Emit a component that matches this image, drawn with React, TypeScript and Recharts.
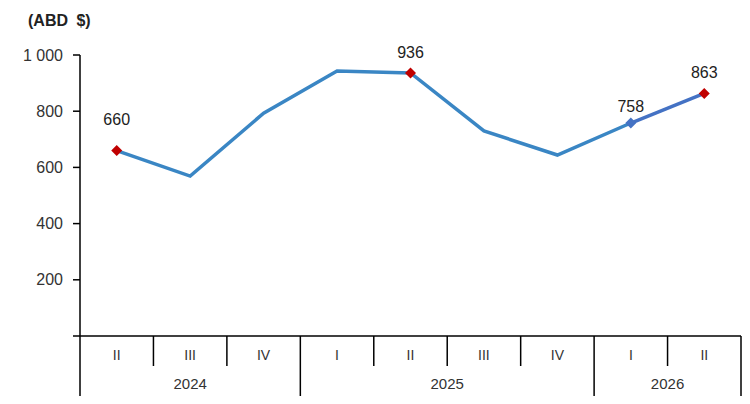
import React from 'react';
import { LineChart, Line, XAxis, YAxis, LabelList } from 'recharts';

const quarters = ['II', 'III', 'IV', 'I', 'II', 'III', 'IV', 'I', 'II'];
const years = ['2024', '2024', '2024', '2025', '2025', '2025', '2025', '2026', '2026'];
const actualValues: (number | null)[] = [660, 569, 793, 943, 936, 730, 644, 758, null];
const forecastValues: (number | null)[] = [null, null, null, null, null, null, null, 758, 863];
const actualLabeledIdx = [0, 4, 7];
const forecastLabeledIdx = [8];
const yTicks = [0, 200, 400, 600, 800, 1000];

const data = quarters.map((q, i) => ({
  key: `${years[i]}-${q}-${i}`,
  quarter: q,
  year: years[i],
  actual: actualValues[i],
  forecast: forecastValues[i],
  labelA: actualLabeledIdx.includes(i) ? actualValues[i] : null,
  labelF: forecastLabeledIdx.includes(i) ? forecastValues[i] : null,
}));

const FONT = '"Liberation Sans", Arial, sans-serif';
const MAIN = '#3A86C4';
const FORE = '#4472C4';
const RED = '#C00000';
const PLOT_W = 750 - 80 - 9;
const BAND = PLOT_W / quarters.length;

const Diamond = ({ cx, cy, fill }: any) => {
  if (cx == null || cy == null) return null;
  const r = 5.5;
  return <path d={`M${cx},${cy - r}L${cx + r},${cy}L${cx},${cy + r}L${cx - r},${cy}Z`} fill={fill} />;
};

const actualDot = (props: any) => {
  const { index, cx, cy } = props;
  if (index === 7 || !actualLabeledIdx.includes(index)) return <g key={`a${index}`} />;
  return <Diamond key={`a${index}`} cx={cx} cy={cy} fill={RED} />;
};

const forecastDot = (props: any) => {
  const { index, cx, cy } = props;
  if (index === 7) return <Diamond key={`f${index}`} cx={cx} cy={cy} fill={FORE} />;
  if (index === 8) return <Diamond key={`f${index}`} cx={cx} cy={cy} fill={RED} />;
  return <g key={`f${index}`} />;
};

const labelOffsets: Record<number, number> = { 0: 26, 4: 15, 7: 11, 8: 15 };

const ValueLabel = (props: any) => {
  const { x, y, width, value, index } = props;
  if (value == null || value === '' || x == null || y == null) return null;
  const off = labelOffsets[index] ?? 16;
  const cx = x + (width || 0) / 2;
  return (
    <text x={cx} y={y - off} textAnchor="middle" fontFamily={FONT} fontSize={16} fill="#222">
      {value}
    </text>
  );
};

const QuarterTick = (props: any) => {
  const { x, y, payload, index } = props;
  const half = payload?.offset ? payload.offset : BAND / 2;
  const bw = half * 2;
  const top = y - 8;
  const i = payload?.index ?? index;
  const isGroupStart = i === 0 || years[i] !== years[i - 1];
  const isLast = i === quarters.length - 1;
  let groupLen = 0;
  if (isGroupStart) {
    let j = i;
    while (j < years.length && years[j] === years[i]) {
      groupLen++;
      j++;
    }
  }
  const leftEdge = x - half;
  const rightEdge = x + half;
  const nextIsNewYear = !isLast && years[i + 1] !== years[i];
  return (
    <g>
      <text x={x} y={top + 24} textAnchor="middle" fontFamily={FONT} fontSize={14} fill="#333" stroke="none">
        {quarters[i]}
      </text>
      {i === 0 && <line x1={leftEdge} y1={top} x2={leftEdge} y2={top + 60} stroke="#000" strokeWidth={1.5} />}
      <line
        x1={rightEdge}
        y1={top}
        x2={rightEdge}
        y2={top + (nextIsNewYear || isLast ? 60 : 30)}
        stroke="#000"
        strokeWidth={1.5}
      />
      {isGroupStart && (
        <text
          x={leftEdge + (groupLen * bw) / 2}
          y={top + 53}
          textAnchor="middle"
          fontFamily={FONT}
          fontSize={15}
          fill="#333"
          stroke="none"
        >
          {years[i]}
        </text>
      )}
    </g>
  );
};

const fmtY = (v: number) => (v === 0 ? '' : v >= 1000 ? `${Math.floor(v / 1000)} ${String(v % 1000).padStart(3, '0')}` : String(v));

export default function App() {
  return (
    <div style={{ position: 'absolute', left: 0, top: 0, width: 750, height: 404, background: '#fff' }}>
      <div
        style={{
          position: 'absolute',
          left: 28,
          top: 12,
          fontFamily: FONT,
          fontWeight: 'bold',
          fontSize: 16,
          wordSpacing: 4,
          color: '#222',
        }}
      >
        (ABD $)
      </div>
      <LineChart
        width={750}
        height={404}
        data={data}
        margin={{ top: 55, right: 9, left: 0, bottom: 4 }}
      >
        <XAxis
          dataKey="key"
          type="category"
          scale="band"
          interval={0}
          height={64}
          tickLine={false}
          axisLine={{ stroke: '#000', strokeWidth: 1.5 }}
          tick={<QuarterTick />}
        />
        <YAxis
          width={80}
          domain={[0, 1000]}
          ticks={yTicks}
          interval={0}
          tickFormatter={fmtY}
          tickSize={7}
          tickMargin={10}
          axisLine={{ stroke: '#000', strokeWidth: 1.5 }}
          tickLine={{ stroke: '#000', strokeWidth: 1.5 }}
          tick={{ fontFamily: FONT, fontSize: 16, fill: '#333' }}
        />
        <Line
          type="linear"
          dataKey="actual"
          stroke={MAIN}
          strokeWidth={3.5}
          dot={actualDot}
          activeDot={false}
          isAnimationActive={false}
          connectNulls={false}
        >
          <LabelList dataKey="labelA" content={<ValueLabel />} />
        </Line>
        <Line
          type="linear"
          dataKey="forecast"
          stroke={FORE}
          strokeWidth={3.5}
          dot={forecastDot}
          activeDot={false}
          isAnimationActive={false}
        >
          <LabelList dataKey="labelF" content={<ValueLabel />} />
        </Line>
      </LineChart>
    </div>
  );
}
